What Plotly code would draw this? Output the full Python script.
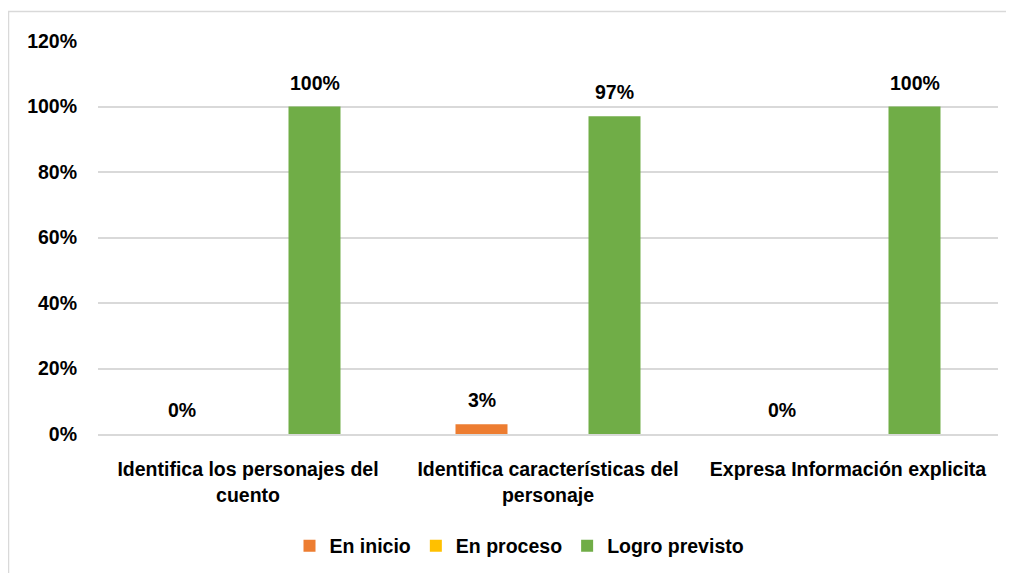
import plotly.graph_objects as go

categories = ["Identifica los personajes del<br>cuento",
              "Identifica características del<br>personaje",
              "Expresa Información explicita"]
series_names = ["En inicio", "En proceso", "Logro previsto"]
en_inicio = [0.0, 0.03, 0.0]
en_proceso = [0.0, 0.0, 0.0]
logro_previsto = [1.0, 0.97, 1.0]
show_labels = [True, False, True]
colors = ["#ED7D31", "#FFC000", "#70AD47"]
y_ticks = [0, 0.2, 0.4, 0.6, 0.8, 1.0, 1.2]
y_tick_labels = ["0%", "20%", "40%", "60%", "80%", "100%", "120%"]

FONT = "Liberation Sans, Arial, sans-serif"
FS = 19.5
OFF = 8  # page body margin
W, H = 1014 - OFF, 573 - OFF
ML, MR, MT, MB = 98 - OFF, 16, 41 - OFF, 139
plot_w = W - ML - MR
plot_h = H - MT - MB
bargap = 0.335
slot_px = plot_w / len(categories) * (1 - bargap) / 3

fig = go.Figure()
values = [en_inicio, en_proceso, logro_previsto]
for i, (name, vals, col) in enumerate(zip(series_names, values, colors)):
    fig.add_trace(go.Bar(x=categories, y=vals, name=f"<b>{name}</b>", marker_color=col,
                         marker_line_width=0))
    if show_labels[i]:
        for c, v in zip(categories, vals):
            fig.add_annotation(x=c, y=v, text=f"<b>{round(v*100)}%</b>",
                               showarrow=False, xshift=(i - 1) * slot_px,
                               yshift=24, yanchor="middle",
                               font=dict(family=FONT, size=FS, color="#000000"))

# chart border (light gray frame)
fig.add_shape(type="rect", xref="paper", yref="paper",
              x0=(8.5 - 98) / plot_w, x1=1 + 40 / plot_w,
              y0=-(200) / plot_h, y1=1 + (41 - 11.5) / plot_h,
              line=dict(color="#D9D9D9", width=1.5), layer="below")

fig.update_layout(
    width=W, height=H,
    margin=dict(l=ML, r=MR, t=MT, b=MB, pad=0, autoexpand=False),
    paper_bgcolor="white", plot_bgcolor="white",
    barmode="group", bargap=bargap, bargroupgap=0.218,
    font=dict(family=FONT, size=FS, color="#000000"),
    showlegend=True,
    legend=dict(orientation="h", x=(519.5 - 98) / plot_w, xanchor="center",
                y=-(546 - 434) / plot_h,
                yanchor="middle", font=dict(family=FONT, size=FS, color="#000000"),
                itemwidth=30, tracegroupgap=0),
    xaxis=dict(showgrid=False, showline=True, linecolor="#D9D9D9", linewidth=1.5,
               ticks="", ticklabelstandoff=17, automargin=False,
               tickvals=categories,
               ticktext=[f"<b>{c.replace('<br>', '</b><br><b>')}</b>" for c in categories],
               tickfont=dict(family=FONT, size=FS, color="#000000")),
    yaxis=dict(range=[0, 1.2], tickvals=y_ticks, automargin=False,
               ticktext=[f"<b>{t}</b>" for t in y_tick_labels],
               showgrid=True, gridcolor="#D9D9D9", gridwidth=1.5, zeroline=False,
               showline=False, ticks="", ticklabelstandoff=20,
               tickfont=dict(family=FONT, size=FS, color="#000000")),
)

fig.write_html("out.html")
